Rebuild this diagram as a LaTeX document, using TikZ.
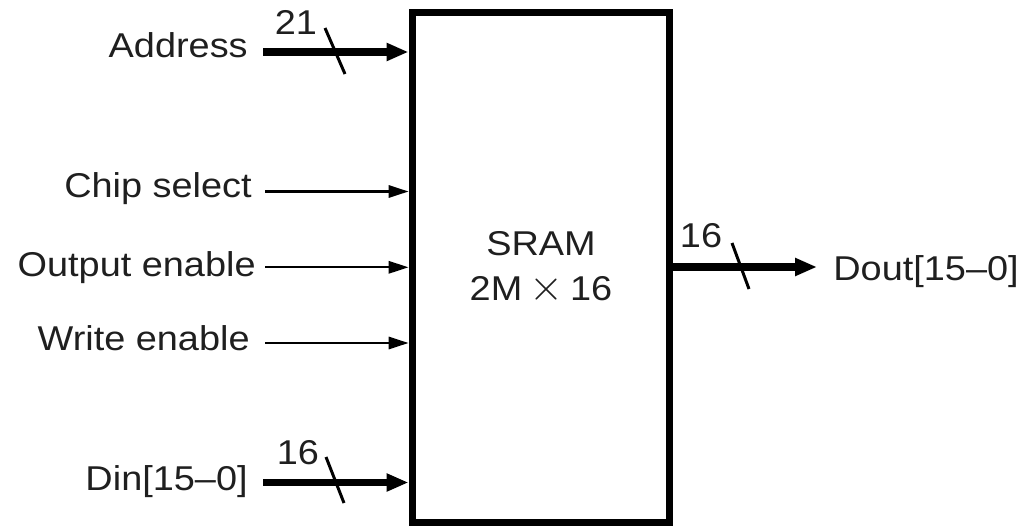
\documentclass[tikz,border=0pt]{standalone}
\usepackage{fontspec}
\setmainfont{Liberation Sans}[FakeStretch=1.1]
\usetikzlibrary{arrows.meta,positioning}
\newcommand{\bigtimes}{\hspace{0.2em}\scalebox{1.2}{$\times$}\hspace{0.2em}}

\begin{document}
\begin{tikzpicture}[x=0.02cm,y=-0.02cm,font=\fontsize{19.6}{25.5}\selectfont,
 lbl/.style={inner sep=0pt,anchor=base east,text=black!88},
 wire/.style={line width=1.2pt,-{Triangle[length=11.3pt,width=7pt]}},
 bus/.style={line width=4.2pt,-{Triangle[length=12.5pt,width=9.6pt]}},
 slash/.style={line width=1.7pt}]
\useasboundingbox (0,0) rectangle (1021,527);
% memory block
\node[draw,line width=4pt,minimum width=5.16cm,minimum height=10.21cm,align=center,inner sep=0pt,text=black!88](m) at (541,267.75){SRAM\\2M\bigtimes16};
% inputs
\node[lbl](a) at (248,58){Address};
\node[lbl](cs) at (252,197){Chip select};
\node[lbl](oe) at (256,276){Output enable};
\node[lbl](we) at (250,350){Write enable};
\node[lbl](d) at (248,490){Din[15–0]};
\coordinate(a0) at (263,52);\coordinate(cs0) at (265,191.5);\coordinate(oe0) at (265,267.3);
\coordinate(we0) at (265,343);\coordinate(d0) at (263,482.5);
\draw[bus](a0)--(a0-|m.west);
\draw[wire](cs0)--(cs0-|m.west);\draw[wire](oe0)--(oe0-|m.west);\draw[wire](we0)--(we0-|m.west);
\draw[bus](d0)--(d0-|m.west);
% output
\coordinate(q0) at (817,267);
\draw[bus](m.east|-q0)--(q0);
\node[lbl,anchor=base west](q) at (833,280){Dout[15–0]};
% bus widths
\draw[slash](335,51)+(-10,-23)--+(10,23);\node[lbl,anchor=base](wa) at (296,35){21};
\draw[slash](335,480)+(-9,-23)--+(9,23);\node[lbl,anchor=base](wd) at (298,464){16};
\draw[slash](740.5,266)+(-8.5,-23)--+(8.5,23);\node[lbl,anchor=base](wq) at (701,247){16};
\end{tikzpicture}
\end{document}
